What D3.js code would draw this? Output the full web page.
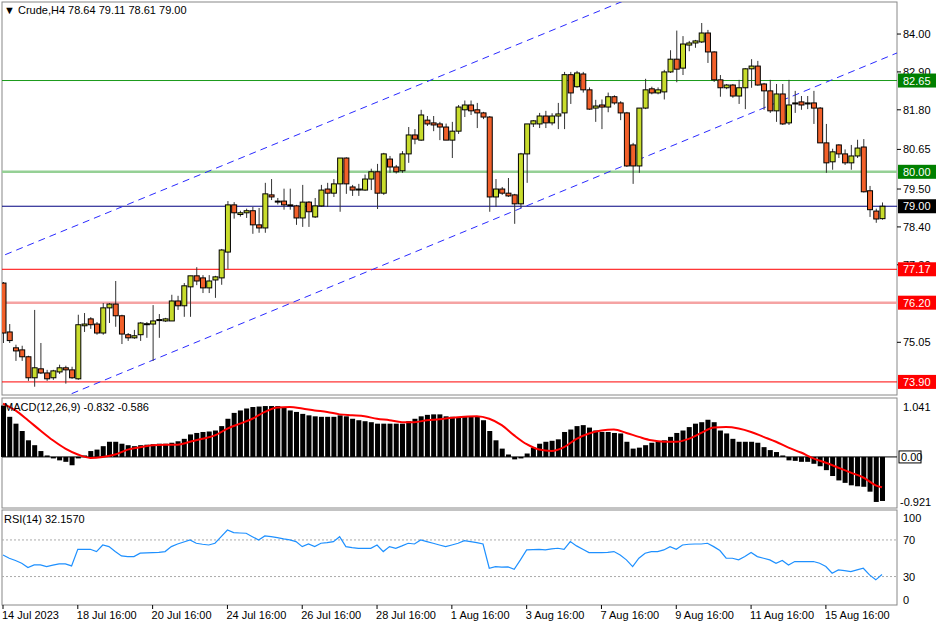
<!DOCTYPE html>
<html>
<head>
<meta charset="utf-8">
<script src="https://cdn.jsdelivr.net/npm/d3@7"></script>
<style>
  body { margin: 0; background: #fff; }
  text { font-family: "Liberation Sans", Arial, sans-serif; font-size: 11px; fill: #000; }
</style>
</head>
<body>
<svg id="chart" width="936" height="624"></svg>
<script>
// H4 candles, Crude, 14 Jul - 16 Aug 2023
var open = [76.77,75.35,74.89,74.83,74.63,74.02,74.28,74.16,74.02,74.19,74.31,74.25,73.99,75.53,75.73,75.58,75.32,76.05,76.16,75.82,
  75.27,75.18,75.27,75.58,75.58,75.70,75.67,75.67,76.25,76.11,76.66,76.98,76.92,76.63,76.86,76.92,77.67,79.04,78.76,78.81,
  78.87,78.46,78.37,79.33,79.15,79.15,79.04,79.01,78.66,79.12,78.69,79.01,79.50,79.38,79.65,80.40,79.56,79.47,79.47,79.79,
  80.00,79.38,80.37,80.14,80.03,80.52,81.07,80.92,81.50,81.42,81.39,81.30,80.92,81.18,81.80,81.94,81.80,81.71,81.59,79.27,
  79.50,79.38,79.33,79.07,80.52,81.39,81.39,81.62,81.42,81.62,81.71,82.82,82.47,82.84,82.38,81.85,81.94,81.88,82.18,82.00,
  81.71,80.78,80.17,81.85,82.41,82.29,82.32,82.90,83.27,83.01,83.68,83.74,83.77,84.03,83.48,82.67,82.44,82.52,82.20,82.44,
  82.99,83.07,82.55,82.35,81.77,82.26,81.42,81.97,82.03,81.97,82.00,81.85,80.84,80.29,80.78,80.52,80.26,80.46,80.72,79.45,
  78.86,78.64];
var high = [76.80,75.58,74.98,74.95,74.66,75.99,75.03,74.25,74.25,74.40,74.37,74.34,75.85,75.90,75.78,75.64,76.19,76.19,76.83,75.85,
  75.32,75.41,75.64,75.64,76.13,75.87,75.76,76.43,76.40,76.77,76.98,77.23,77.00,77.00,76.98,77.76,79.15,79.12,78.87,78.93,
  78.98,78.95,79.68,79.79,79.24,79.51,79.51,79.04,79.62,79.15,79.24,79.62,79.68,79.79,80.40,80.42,79.62,79.65,79.92,80.09,
  80.23,80.55,80.46,80.20,80.60,81.30,81.24,81.80,81.62,81.62,81.45,81.40,81.45,81.94,82.07,82.07,82.00,81.74,81.62,79.79,
  79.56,79.82,79.36,80.55,81.39,81.50,81.71,81.77,81.70,82.00,82.90,82.90,82.93,82.90,82.45,82.09,82.10,82.30,82.22,82.05,
  81.74,80.84,81.85,82.70,82.47,82.45,82.96,83.53,84.10,83.94,83.80,83.83,84.32,84.12,83.50,82.81,82.55,82.55,82.67,83.01,
  83.27,83.22,82.58,82.67,82.55,82.55,82.67,82.35,82.20,82.20,82.35,81.88,81.39,80.67,80.80,80.65,80.78,80.93,80.95,79.59,
  78.93,79.11];
var low = [75.03,75.03,74.51,74.51,73.93,73.76,74.13,73.93,73.96,74.13,73.85,73.99,73.96,75.35,75.44,75.27,75.27,75.61,75.50,75.00,
  75.09,75.15,75.09,75.18,74.51,75.18,75.64,75.67,75.99,75.79,75.79,76.71,76.48,76.48,76.34,76.72,77.18,78.64,78.70,78.66,
  78.20,78.23,78.23,79.18,79.05,78.90,78.90,78.46,78.40,78.40,78.66,78.98,78.98,79.27,78.84,79.36,79.30,79.30,79.45,79.47,
  78.92,79.33,79.97,79.95,79.97,80.26,80.80,80.90,81.33,81.18,80.92,80.92,80.40,81.10,81.59,81.65,81.27,81.53,78.84,78.98,
  79.33,79.27,78.49,78.95,79.68,81.30,81.27,81.27,81.35,81.24,81.24,81.97,82.44,82.30,81.80,81.45,81.24,81.73,81.95,81.50,
  80.14,79.65,79.97,81.82,82.25,82.25,82.10,82.87,82.60,82.81,83.50,83.60,83.74,83.16,82.61,82.18,82.40,82.15,81.97,81.82,
  82.44,82.50,81.80,81.71,81.45,81.36,81.36,81.71,81.80,81.82,81.39,80.84,79.97,80.06,80.40,80.20,80.06,80.40,79.40,78.69,
  78.52,78.61];
var close = [75.32,75.10,74.80,74.63,74.02,74.31,74.16,73.99,74.22,74.31,74.25,74.02,75.56,75.58,75.56,75.32,76.05,76.16,75.82,75.29,
  75.18,75.24,75.61,75.59,75.67,75.71,75.73,76.25,76.11,76.69,76.98,76.83,76.63,76.83,76.95,77.73,79.04,78.81,78.81,78.87,
  78.46,78.37,79.36,79.27,79.13,79.04,79.03,78.66,79.12,78.84,79.01,79.47,79.38,79.65,80.40,79.65,79.47,79.50,79.79,80.00,
  79.38,80.52,80.14,80.00,80.52,81.07,80.95,81.65,81.39,81.36,81.30,80.92,81.18,81.88,81.94,81.77,81.71,81.59,79.27,79.50,
  79.38,79.30,79.07,80.52,81.39,81.48,81.62,81.42,81.62,81.68,82.82,82.29,82.87,82.38,81.82,81.91,81.88,82.18,82.00,81.71,
  80.17,80.17,81.85,82.38,82.29,82.38,82.90,83.27,82.98,83.71,83.74,83.80,84.03,83.48,82.67,82.44,82.52,82.20,82.44,82.99,
  83.07,82.52,82.35,81.77,82.26,81.39,81.94,82.00,81.94,82.00,81.85,80.84,80.26,80.58,80.52,80.26,80.46,80.69,79.42,78.90,
  78.63,79.00];

// MACD(12,26,9) main values, one per bar
var macd = [1.05,0.82,0.68,0.53,0.34,0.24,0.12,0.03,-0.03,-0.07,-0.10,-0.17,-0.03,0.03,0.12,0.15,0.22,0.31,0.31,0.27,
  0.24,0.22,0.24,0.25,0.26,0.27,0.27,0.29,0.32,0.37,0.46,0.49,0.51,0.52,0.54,0.63,0.78,0.90,0.95,0.99,
  1.02,1.03,1.04,1.04,1.04,1.01,0.95,0.92,0.88,0.85,0.83,0.82,0.82,0.82,0.85,0.83,0.78,0.75,0.73,0.71,
  0.68,0.68,0.68,0.68,0.68,0.73,0.78,0.83,0.86,0.87,0.87,0.83,0.82,0.80,0.83,0.83,0.82,0.75,0.53,0.34,
  0.17,0.05,-0.05,-0.03,0.07,0.19,0.27,0.31,0.33,0.36,0.51,0.56,0.63,0.65,0.60,0.54,0.51,0.51,0.49,0.48,
  0.31,0.17,0.19,0.24,0.29,0.31,0.34,0.41,0.49,0.54,0.61,0.68,0.71,0.76,0.71,0.54,0.48,0.37,0.31,0.31,
  0.31,0.29,0.20,0.14,0.10,0.03,-0.07,-0.08,-0.10,-0.10,-0.14,-0.19,-0.27,-0.39,-0.48,-0.53,-0.58,-0.60,-0.61,-0.71,
  -0.92,-0.90];
// signal line, read every second bar (0,2,...,140) plus the last bar
var signal = [1.09,0.95,0.75,0.54,0.34,0.17,0.05,-0.02,0.00,0.05,0.15,0.20,0.24,0.25,0.25,0.31,0.37,0.44,0.58,0.68,
  0.78,0.92,1.01,1.02,0.99,0.95,0.92,0.87,0.85,0.83,0.78,0.75,0.71,0.71,0.75,0.77,0.80,0.82,0.83,0.78,
  0.65,0.44,0.26,0.15,0.12,0.20,0.37,0.48,0.54,0.56,0.49,0.41,0.34,0.31,0.31,0.37,0.49,0.60,0.61,0.58,
  0.51,0.41,0.31,0.19,0.09,-0.03,-0.12,-0.22,-0.32,-0.42,-0.58,-0.62];

// RSI(14)
var rsi = [53.6,50.0,47.5,44.5,39.8,42.7,42.7,40.9,42.4,43.8,43.8,41.6,59.8,59.8,59.8,57.3,64.5,62.7,57.3,52.5,
  51.8,51.8,55.5,55.8,56.2,56.5,57.3,62.7,65.6,67.8,70.0,66.4,65.3,64.5,66.4,73.6,80.9,78.0,77.6,77.3,
  73.6,70.0,74.4,73.6,72.5,71.1,70.0,68.2,62.7,65.6,62.7,66.4,67.1,68.2,73.6,62.7,61.6,60.9,60.9,60.9,
  64.5,57.3,62.7,60.9,63.5,66.4,65.6,70.0,68.2,66.4,64.5,62.7,64.5,66.4,69.3,68.2,67.1,65.6,39.1,40.9,
  40.2,40.5,38.0,48.2,59.1,59.5,59.8,59.1,60.2,60.9,59.8,68.2,63.5,59.8,56.2,56.2,56.2,56.5,57.3,53.6,
  48.2,40.9,50.0,55.5,57.3,57.3,59.1,62.7,59.8,64.5,65.3,65.6,65.6,66.4,62.7,58.4,50.0,50.0,48.2,51.8,
  56.2,51.8,50.0,48.2,44.5,47.5,42.7,46.4,46.4,46.4,46.4,44.5,40.9,33.6,37.3,36.5,35.5,37.3,39.1,31.8,
  26.4,32.2];

var timeLabels = ["14 Jul 2023","18 Jul 16:00","20 Jul 16:00","24 Jul 16:00","26 Jul 16:00","28 Jul 16:00",
  "1 Aug 16:00","3 Aug 16:00","7 Aug 16:00","9 Aug 16:00","11 Aug 16:00","15 Aug 16:00"];
var timeLabelBars = [0,12,24,36,48,60,72,84,96,108,120,132];
var priceTicks = [84.00, 82.90, 81.80, 80.65, 79.50, 78.40, 77.30, 75.05];

// horizontal levels: value, line colour, width, label bg
var levelValues = [82.65, 80.00, 79.00, 77.17, 76.20, 73.90];
var levelColors = ["#1a9a1a", "#95d095", "#000080", "#ff0000", "#f5a3a3", "#ff0000"];
var levelWidths = [1, 2.5, 1, 1, 2.5, 1];
var levelBg = ["#008000", "#008000", "#000000", "#ff0000", "#ff0000", "#ff0000"];

// channel lines as [bar index, price]
var channelUpper = [[-0.5, 77.53], [74.1, 83.07]];
var channelLower = [[13.3, 73.73], [143.4, 83.45]];

var svg = d3.select("#chart");
var left = 2, right = 897;

var x = d3.scaleLinear().domain([0, 141]).range([3, 882]);
var y = d3.scaleLinear().domain([73.52, 84.93]).range([395, 2]);
var yM = d3.scaleLinear().domain([-0.921, 1.041]).range([502, 406]);
var yR = d3.scaleLinear().domain([0, 100]).range([604, 512.5]);

// panel frames
[[2, 395], [398, 508], [510, 605]].forEach(function (p) {
  svg.append("rect").attr("x", left).attr("y", p[0]).attr("width", right - left).attr("height", p[1] - p[0])
    .attr("fill", "none").attr("stroke", "#888").attr("stroke-width", 1);
});

svg.append("clipPath").attr("id", "mainclip").append("rect")
  .attr("x", left).attr("y", 2).attr("width", right - left).attr("height", 393);
var main = svg.append("g").attr("clip-path", "url(#mainclip)");

// levels
levelValues.forEach(function (v, i) {
  main.append("line").attr("x1", left).attr("x2", right).attr("y1", y(v)).attr("y2", y(v))
    .attr("stroke", levelColors[i]).attr("stroke-width", levelWidths[i]);
});

// channel
[channelUpper, channelLower].forEach(function (c) {
  var k = (c[1][1] - c[0][1]) / (c[1][0] - c[0][0]);
  var i0 = -5, i1 = 150;
  main.append("line")
    .attr("x1", x(i0)).attr("y1", y(c[0][1] + k * (i0 - c[0][0])))
    .attr("x2", x(i1)).attr("y2", y(c[0][1] + k * (i1 - c[0][0])))
    .attr("stroke", "#2a2aff").attr("stroke-width", 1).attr("stroke-dasharray", "7,5");
});

// candles
var idx = d3.range(open.length);
var candles = main.selectAll(".c").data(idx).enter().append("g");
candles.append("line")
  .attr("x1", function (i) { return x(i) + 0.5; }).attr("x2", function (i) { return x(i) + 0.5; })
  .attr("y1", function (i) { return y(high[i]); }).attr("y2", function (i) { return y(low[i]); })
  .attr("stroke", "#333").attr("stroke-width", 1);
candles.append("rect")
  .attr("x", function (i) { return x(i) - 2; })
  .attr("y", function (i) { return y(Math.max(open[i], close[i])); })
  .attr("width", 5)
  .attr("height", function (i) { return Math.max(1, Math.abs(y(open[i]) - y(close[i]))); })
  .attr("fill", function (i) { return close[i] >= open[i] ? "#c8dc2c" : "#f2602a"; })
  .attr("stroke", "#000").attr("stroke-width", 1);

// price axis
priceTicks.forEach(function (v) {
  svg.append("line").attr("x1", right).attr("x2", right + 4).attr("y1", y(v)).attr("y2", y(v)).attr("stroke", "#000");
  svg.append("text").attr("x", 903).attr("y", y(v) + 4).text(v.toFixed(2));
});
levelValues.forEach(function (v, i) {
  svg.append("rect").attr("x", right + 1).attr("y", y(v) - 7).attr("width", 38).attr("height", 14).attr("fill", levelBg[i]);
  svg.append("text").attr("x", 903).attr("y", y(v) + 4).style("fill", "#fff").text(v.toFixed(2));
});
svg.append("text").attr("x", 4).attr("y", 14).text("\u25BC Crude,H4  78.64 79.11 78.61 79.00").style("font-size", "11px");

// MACD panel
svg.selectAll(".mb").data(idx).enter().append("rect")
  .attr("x", function (i) { return x(i) - 2; })
  .attr("y", function (i) { return Math.min(yM(0), yM(macd[i])); })
  .attr("width", 5)
  .attr("height", function (i) { return Math.abs(yM(macd[i]) - yM(0)); })
  .attr("fill", "#000");
svg.append("line").attr("x1", left).attr("x2", right).attr("y1", yM(0)).attr("y2", yM(0)).attr("stroke", "#000");
var sigIdx = signal.map(function (d, k) { return Math.min(2 * k, 141); });
svg.append("path").datum(signal)
  .attr("d", d3.line().curve(d3.curveMonotoneX).x(function (d, k) { return x(sigIdx[k]); }).y(function (d) { return yM(d); }))
  .attr("fill", "none").attr("stroke", "#ff0000").attr("stroke-width", 2);
svg.append("text").attr("x", 4).attr("y", 411).text("MACD(12,26,9) -0.832 -0.586");
svg.append("text").attr("x", 903).attr("y", 411).text("1.041");
svg.append("rect").attr("x", 899).attr("y", yM(0) - 6).attr("width", 22).attr("height", 12).attr("fill", "#fff").attr("stroke", "#000");
svg.append("text").attr("x", 901).attr("y", yM(0) + 4).text("0.00");
svg.append("text").attr("x", 900).attr("y", 506).text("-0.921");

// RSI panel
[70, 30].forEach(function (v) {
  svg.append("line").attr("x1", left).attr("x2", right).attr("y1", yR(v)).attr("y2", yR(v))
    .attr("stroke", "#aaa").attr("stroke-dasharray", "2,2");
});
svg.append("path").datum(rsi)
  .attr("d", d3.line().x(function (d, i) { return x(i); }).y(function (d) { return yR(d); }))
  .attr("fill", "none").attr("stroke", "#1e90ff").attr("stroke-width", 1.2);
svg.append("text").attr("x", 4).attr("y", 523).text("RSI(14) 32.1570");
[["100", 522], ["70", yR(70) + 4], ["30", yR(30) + 4], ["0", 604]].forEach(function (t) {
  svg.append("text").attr("x", 903).attr("y", t[1]).text(t[0]);
});

// time axis
timeLabelBars.forEach(function (b, k) {
  svg.append("line").attr("x1", x(b)).attr("x2", x(b)).attr("y1", 605).attr("y2", 609).attr("stroke", "#000");
  svg.append("text").attr("x", x(b) - 1).attr("y", 619).text(timeLabels[k]);
});
</script>
</body>
</html>
